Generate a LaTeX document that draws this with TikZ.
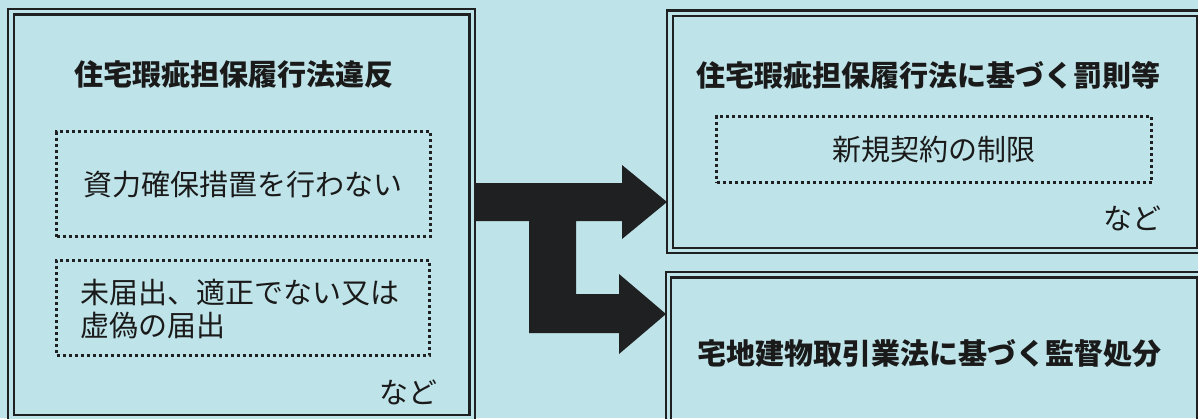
\documentclass[tikz,border=0pt]{standalone}
\usepackage{fontspec}
\setmainfont{Noto Sans CJK JP}
\definecolor{bg}{RGB}{190,227,232}
\definecolor{linec}{RGB}{30,32,34}
\definecolor{txt}{RGB}{26,26,26}
\begin{document}
\begin{tikzpicture}[x=1pt,y=-1pt,
  frame/.style={draw=linec, double=bg, double distance=3.2pt, line width=2.3pt, inner sep=0pt},
  dotbox/.style={draw=linec, line width=3pt, dash pattern=on 3pt off 3pt, inner sep=0pt, text=txt, font=\fontsize{29}{33}\selectfont},
  title/.style={text=txt, inner sep=0pt, font=\fontsize{29}{33}\selectfont\bfseries},
  plain/.style={text=txt, inner sep=0pt, font=\fontsize{29}{33}\selectfont}]
\fill[bg] (0,0) rectangle (1198,418);
\useasboundingbox (0,0) rectangle (1198,418);
\clip (0,0) rectangle (1198,418);
% arrow
\coordinate (a1) at (474,183);
\fill[linec] (a1) -- (622,183) -- (622,165) -- (667,202) -- (622,239) -- (622,221)
  -- (576,221) -- (576,294) -- (619,294) -- (619,274) -- (666,314) -- (619,354) -- (619,333)
  -- (529,333) -- (529,221) -- (474,221) -- cycle;
% frames
\node[frame, minimum width=461.3pt, minimum height=406pt] (L) at (241.6,214.7) {};
\node[frame, minimum width=529.5pt, minimum height=237.2pt] (R1) at (934.75,131.9) {};
\node[frame, minimum width=531pt, minimum height=150.3pt] (R2) at (934,349.85) {};
% left contents
\node[title] (Lt) at (234,74) {住宅瑕疵担保履行法違反};
\node[dotbox, minimum width=373.5pt, minimum height=105pt] (D1) at (243.25,184.2) {資力確保措置を行わない};
\node[dotbox, minimum width=372.5pt, minimum height=95pt] (D2) at (242.75,307.5) {};
\node[plain, align=left, anchor=west] (D2t) at (80,308.5) {未届出、適正でない又は\\虚偽の届出};
\node[plain] (Ln) at (408,392) {など};
% right top contents
\node[title] (R1t) at (928,75) {住宅瑕疵担保履行法に基づく罰則等};
\node[dotbox, minimum width=435pt, minimum height=66.5pt] (D3) at (934.2,149.25) {新規契約の制限};
\node[plain] (R1n) at (1132,218) {など};
% right bottom
\node[title] (R2t) at (929,353) {宅地建物取引業法に基づく監督処分};
\end{tikzpicture}
\end{document}
